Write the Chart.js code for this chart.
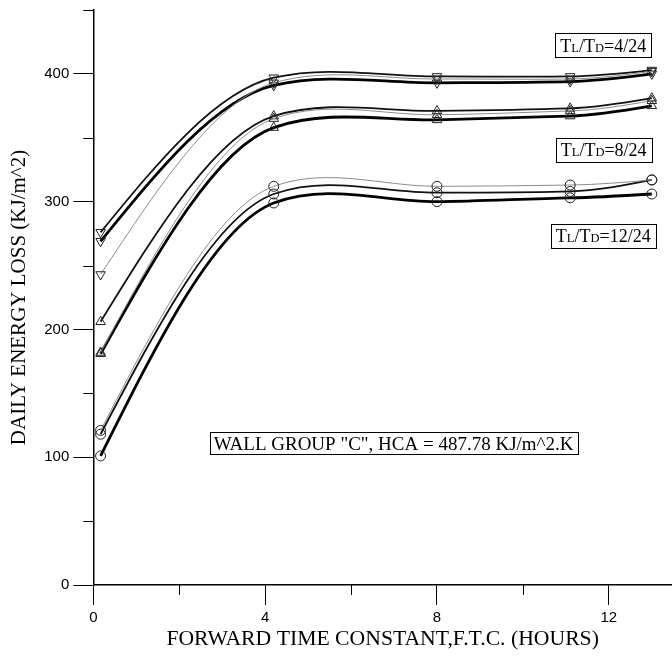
<!DOCTYPE html>
<html>
<head>
<meta charset="utf-8">
<script src="https://cdn.jsdelivr.net/npm/chart.js@4.4.1/dist/chart.umd.min.js"></script>
<style>
  html, body { margin: 0; padding: 0; background: #fff; }
</style>
</head>
<body>
<canvas id="myChart" width="672" height="657"></canvas>
<script>
// forward time constant (hours)
const hours = [0.17, 4.2, 8, 11.1, 13];

// TL/TD = 4/24 (down triangles)
const ratio4Thin = [243, 393, 396, 396, 402];
const ratio4Mid = [276, 397, 398, 398, 403];
const ratio4Thick = [269, 391, 393, 394, 400];

// TL/TD = 8/24 (up triangles)
const ratio8Mid = [206, 367, 371, 373, 381];
const ratio8Thin = [182, 365, 368, 371, 379];
const ratio8Thick = [181, 358, 364, 367, 375];

// TL/TD = 12/24 (circles)
const ratio12Thin = [121, 312, 312, 313, 317];
const ratio12Mid = [118, 306, 307, 308, 317];
const ratio12Thick = [101, 299, 300, 303, 306];

const xTicks = [0, 4, 8, 12];
const xMinor = [2, 6, 10];
const yTicks = [0, 100, 200, 300, 400];
const yMinor = [50, 150, 250, 350, 450];

const ratioNotes = [
  { x: 11.87, y: 422.5, big: "4/24" },
  { x: 11.88, y: 340.5, big: "8/24" },
  { x: 11.87, y: 273.5, big: "12/24" },
];
const wallNote = { x: 6.99, y: 111, text: 'WALL GROUP "C", HCA = 487.78 KJ/m^2.K' };

const serif = '"Liberation Serif", "Times New Roman", serif';
const sans = '"Liberation Sans", Arial, sans-serif';

const styles = {
  thin: { borderColor: "#8c8c8c", borderWidth: 1 },
  mid: { borderColor: "#111", borderWidth: 1.8 },
  thick: { borderColor: "#000", borderWidth: 2.8 },
};

function series(label, values, kind, marker) {
  return {
    label: label,
    data: hours.map((h, i) => ({ x: h, y: values[i] })),
    borderColor: styles[kind].borderColor,
    borderWidth: styles[kind].borderWidth,
    tension: 0.4,
    fill: false,
    clip: false,
    pointStyle: marker === "circle" ? "circle" : "triangle",
    pointRotation: marker === "down" ? 180 : 0,
    pointRadius: marker === "circle" ? 5 : 5.5,
    pointBorderWidth: 1,
    pointBorderColor: "#222",
    pointBackgroundColor: "rgba(0,0,0,0)",
  };
}

// cardinal spline through the points, free (natural) ends
const stiffness = 0.5;
const curveFit = {
  id: "curveFit",
  beforeDatasetDraw(chart, args) {
    const line = args.meta.dataset;
    const pts = args.meta.data;
    const n = pts.length;
    if (!line || n < 3) return;
    line.updateControlPoints(chart.chartArea, "x");
    const m = [];
    for (let i = 1; i < n - 1; i++) {
      m[i] = (1 - stiffness) * (pts[i + 1].y - pts[i - 1].y) / (pts[i + 1].x - pts[i - 1].x);
    }
    const d0 = (pts[1].y - pts[0].y) / (pts[1].x - pts[0].x);
    m[0] = (3 * d0 - m[1]) / 2;
    const dn = (pts[n - 1].y - pts[n - 2].y) / (pts[n - 1].x - pts[n - 2].x);
    m[n - 1] = (3 * dn - m[n - 2]) / 2;
    pts.forEach((p, i) => {
      if (i > 0) {
        const h = (p.x - pts[i - 1].x) / 3;
        p.cp1x = p.x - h;
        p.cp1y = p.y - m[i] * h;
      }
      if (i < n - 1) {
        const h = (pts[i + 1].x - p.x) / 3;
        p.cp2x = p.x + h;
        p.cp2y = p.y + m[i] * h;
      }
    });
  },
};

// boxes, minor ticks
const extras = {
  id: "extras",
  afterDraw(chart) {
    const { ctx } = chart;
    const x = chart.scales.x;
    const y = chart.scales.y;
    ctx.save();
    ctx.strokeStyle = "#000";
    ctx.lineWidth = 1;
    ctx.beginPath();
    xMinor.forEach((v) => {
      const px = Math.round(x.getPixelForValue(v)) + 0.5;
      ctx.moveTo(px, y.bottom);
      ctx.lineTo(px, y.bottom + 10);
    });
    yMinor.forEach((v) => {
      const py = Math.round(y.getPixelForValue(v)) + 0.5;
      ctx.moveTo(x.left - 10, py);
      ctx.lineTo(x.left, py);
    });
    ctx.stroke();

    // TL/TD boxes
    ctx.textBaseline = "alphabetic";
    ratioNotes.forEach((n) => {
      const parts = [
        ["T", 18], ["L", 12.5], ["/T", 18], ["D", 12.5], ["=" + n.big, 18],
      ];
      let w = 0;
      parts.forEach((p) => {
        ctx.font = p[1] + "px " + serif;
        w += ctx.measureText(p[0]).width;
      });
      const cx = x.getPixelForValue(n.x);
      const cy = y.getPixelForValue(n.y);
      const bw = Math.round(w + 10);
      const bh = 24;
      const bx = Math.round(cx - bw / 2) + 0.5;
      const by = Math.round(cy - bh / 2) + 0.5;
      ctx.fillStyle = "#fff";
      ctx.fillRect(bx, by, bw, bh);
      ctx.strokeRect(bx, by, bw, bh);
      ctx.fillStyle = "#000";
      let tx = cx - w / 2;
      parts.forEach((p) => {
        ctx.font = p[1] + "px " + serif;
        ctx.fillText(p[0], tx, cy + 6.5);
        tx += ctx.measureText(p[0]).width;
      });
    });

    // wall group box
    ctx.font = "19px " + serif;
    const ww = ctx.measureText(wallNote.text).width;
    const wx = x.getPixelForValue(wallNote.x);
    const wy = y.getPixelForValue(wallNote.y);
    const bw = Math.round(ww + 8);
    const bx = Math.round(wx - bw / 2) + 0.5;
    const by = Math.round(wy - 11) + 0.5;
    ctx.fillStyle = "#fff";
    ctx.fillRect(bx, by, bw, 22);
    ctx.strokeRect(bx, by, bw, 22);
    ctx.fillStyle = "#000";
    ctx.textAlign = "center";
    ctx.fillText(wallNote.text, wx, wy + 6.5);
    ctx.restore();
  },
};

const ctx = document.getElementById("myChart");

new Chart(ctx, {
  type: "line",
  data: {
    datasets: [
      series("4/24 c", ratio4Thin, "thin", "down"),
      series("4/24 b", ratio4Mid, "mid", "down"),
      series("4/24 a", ratio4Thick, "thick", "down"),
      series("8/24 c", ratio8Thin, "thin", "up"),
      series("8/24 b", ratio8Mid, "mid", "up"),
      series("8/24 a", ratio8Thick, "thick", "up"),
      series("12/24 c", ratio12Thin, "thin", "circle"),
      series("12/24 b", ratio12Mid, "mid", "circle"),
      series("12/24 a", ratio12Thick, "thick", "circle"),
    ],
  },
  options: {
    responsive: false,
    animation: false,
    layout: { autoPadding: false, padding: { top: 10, right: 0, left: 0, bottom: 0 } },
    plugins: {
      legend: { display: false },
      tooltip: { enabled: false },
    },
    scales: {
      x: {
        type: "linear",
        min: 0,
        max: 13.47,
        afterBuildTicks: (scale) => {
          scale.ticks = xTicks.map((v) => ({ value: v }));
        },
        afterFit: (scale) => {
          scale.height = 72;
          scale.paddingLeft = 0;
          scale.paddingRight = 0;
        },
        grid: {
          drawOnChartArea: false,
          tickLength: 20,
          tickColor: "#000",
          tickWidth: 1,
        },
        border: { color: "#000", width: 1.5 },
        ticks: {
          color: "#000",
          padding: 4,
          maxRotation: 0,
          font: { family: sans, size: 15 },
        },
        title: {
          display: true,
          text: "FORWARD TIME CONSTANT,F.T.C. (HOURS)",
          color: "#000",
          font: { family: serif, size: 21.7 },
          padding: { top: 0, bottom: 5 },
        },
      },
      y: {
        min: 0,
        max: 450,
        afterBuildTicks: (scale) => {
          scale.ticks = yTicks.map((v) => ({ value: v }));
        },
        afterFit: (scale) => {
          scale.width = 93.3;
          scale.paddingTop = 0;
          scale.paddingBottom = 0;
        },
        grid: {
          drawOnChartArea: false,
          tickLength: 20,
          tickColor: "#000",
          tickWidth: 1,
        },
        border: { color: "#000", width: 1.5 },
        ticks: {
          color: "#000",
          padding: 4,
          font: { family: sans, size: 15 },
        },
        title: {
          display: true,
          text: "DAILY ENERGY LOSS (KJ/m^2)",
          color: "#000",
          font: { family: serif, size: 21 },
          padding: { top: 7, bottom: 0 },
        },
      },
    },
  },
  plugins: [curveFit, extras],
});
</script>
</body>
</html>
